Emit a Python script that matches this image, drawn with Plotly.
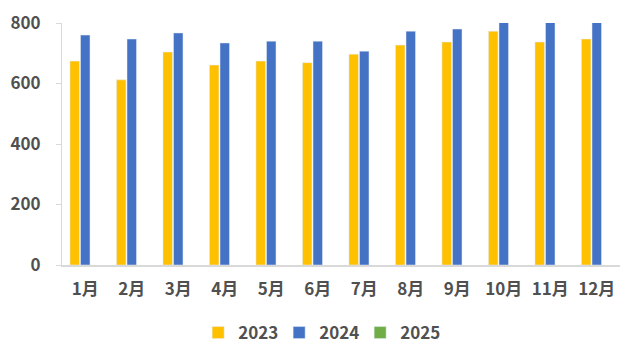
import plotly.graph_objects as go

months = ["1月", "2月", "3月", "4月", "5月", "6月", "7月", "8月", "9月", "10月", "11月", "12月"]
s2023 = [674, 612, 704, 661, 674, 669, 697, 727, 737, 773, 737, 747]
s2024 = [760, 747, 767, 734, 740, 740, 707, 773, 780, 805, 806, 806]
s2025 = [None] * 12
y_ticks = [0, 200, 400, 600, 800]

FONT = "Noto Sans CJK SC"
TXT = "#505050"
TF = dict(family=FONT, size=17, color=TXT, weight="bold")

fig = go.Figure()
fig.add_bar(x=months, y=s2023, name="2023", marker_color="#FFC000")
fig.add_bar(x=months, y=s2024, name="2024", marker_color="#4472C4")
fig.add_bar(x=months, y=s2025, name="2025", marker_color="#70AD47")

fig.update_layout(
    width=636, height=356,
    margin=dict(l=54, r=24, t=15, b=99, autoexpand=False),
    paper_bgcolor="white", plot_bgcolor="white",
    barmode="group", bargap=0.32, bargroupgap=0.1,
    font=TF,
    showlegend=True,
    legend=dict(orientation="h", x=0.49, xanchor="center", xref="container",
                y=0.087, yanchor="middle", yref="container",
                font=TF, itemwidth=30, entrywidth=36, traceorder="normal"),
)
fig.update_xaxes(showline=True, linecolor="#D9D9D9", linewidth=2, ticks="",
                 showgrid=False, tickfont=TF, automargin=False,
                 ticklabelstandoff=8)
fig.update_yaxes(range=[0, 800], tickvals=y_ticks, showgrid=False, zeroline=False,
                 showline=True, linecolor="#D9D9D9", linewidth=1,
                 ticks="outside", ticklen=5, tickcolor="#D9D9D9",
                 tickfont=TF, automargin=False,
                 ticklabelstandoff=12)

fig.write_html("out.html")
